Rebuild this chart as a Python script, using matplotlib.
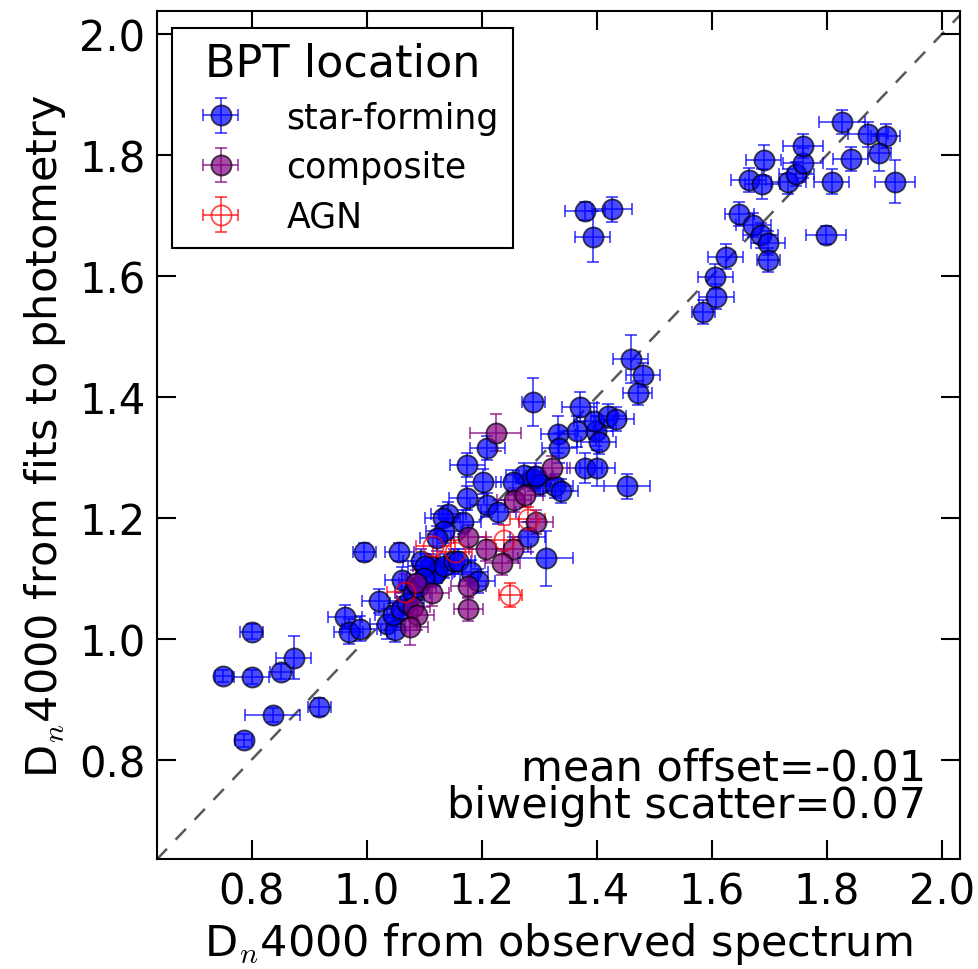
import matplotlib
matplotlib.use("Agg")
import matplotlib.pyplot as plt
import numpy as np

# star-forming galaxies: D_n4000 (spectrum), D_n4000 (photometry), errors
sf_x = [0.751, 0.800, 0.800, 0.837, 0.852, 0.873, 0.918, 0.786,
        0.996, 1.057, 0.962, 0.969, 0.988, 1.022, 1.036, 1.050, 1.062, 1.094,
        1.111, 1.123, 1.118, 1.135, 1.151, 1.158, 1.181, 1.193, 1.102,
        1.045, 1.060, 1.070, 1.080, 1.090, 1.100,
        1.142, 1.132, 1.168, 1.134, 1.122, 1.175, 1.203, 1.174, 1.210, 1.229,
        1.210, 1.290, 1.311, 1.280, 1.290, 1.302, 1.273, 1.255, 1.328, 1.337,
        1.333, 1.335, 1.365, 1.398, 1.395, 1.420, 1.434, 1.403, 1.370, 1.379,
        1.401, 1.452, 1.459, 1.480, 1.471, 1.294,
        1.379, 1.426, 1.393,
        1.585, 1.608, 1.606, 1.624, 1.648, 1.672, 1.685, 1.698, 1.698, 1.799,
        1.664, 1.688, 1.690, 1.733, 1.747, 1.759, 1.759, 1.808, 1.827, 1.841,
        1.872, 1.902, 1.891, 1.918]
sf_y = [0.938, 1.012, 0.937, 0.874, 0.946, 0.969, 0.887, 0.832,
        1.143, 1.144, 1.036, 1.012, 1.017, 1.062, 1.024, 1.015, 1.098, 1.128,
        1.120, 1.112, 1.107, 1.121, 1.128, 1.128, 1.111, 1.095, 1.121,
        1.040, 1.050, 1.060, 1.075, 1.085, 1.100,
        1.207, 1.199, 1.193, 1.178, 1.166, 1.287, 1.260, 1.233, 1.221, 1.210,
        1.315, 1.392, 1.133, 1.169, 1.264, 1.256, 1.271, 1.259, 1.253, 1.245,
        1.338, 1.315, 1.343, 1.344, 1.360, 1.369, 1.364, 1.326, 1.383, 1.283,
        1.283, 1.252, 1.463, 1.436, 1.407, 1.270,
        1.707, 1.710, 1.665,
        1.541, 1.566, 1.599, 1.632, 1.702, 1.684, 1.667, 1.654, 1.627, 1.667,
        1.758, 1.752, 1.791, 1.756, 1.768, 1.787, 1.815, 1.756, 1.855, 1.793,
        1.834, 1.832, 1.804, 1.756]
sf_xerr = [0.015, 0.020, 0.030, 0.048, 0.020, 0.030, 0.020, 0.015,
           0.020, 0.025, 0.030, 0.025, 0.030, 0.030, 0.030, 0.025, 0.030, 0.030,
           0.030, 0.030, 0.030, 0.030, 0.030, 0.030, 0.030, 0.030, 0.030,
           0.030, 0.030, 0.030, 0.030, 0.030, 0.030,
           0.030, 0.030, 0.030, 0.030, 0.030, 0.030, 0.030, 0.030, 0.030, 0.030,
           0.030, 0.020, 0.048, 0.030, 0.030, 0.030, 0.030, 0.030, 0.030, 0.030,
           0.030, 0.030, 0.030, 0.030, 0.035, 0.030, 0.030, 0.030, 0.030, 0.030,
           0.030, 0.040, 0.030, 0.030, 0.025, 0.030,
           0.035, 0.035, 0.030,
           0.020, 0.030, 0.030, 0.030, 0.025, 0.030, 0.030, 0.030, 0.020, 0.035,
           0.030, 0.030, 0.030, 0.030, 0.030, 0.035, 0.035, 0.030, 0.040, 0.030,
           0.035, 0.025, 0.020, 0.035]
sf_yerr = [0.010, 0.012, 0.012, 0.012, 0.012, 0.036, 0.015, 0.010,
           0.015, 0.015, 0.020, 0.020, 0.020, 0.020, 0.025, 0.020, 0.020, 0.020,
           0.020, 0.020, 0.020, 0.020, 0.020, 0.020, 0.020, 0.020, 0.020,
           0.020, 0.020, 0.020, 0.020, 0.020, 0.020,
           0.020, 0.020, 0.020, 0.020, 0.020, 0.020, 0.020, 0.020, 0.020, 0.020,
           0.020, 0.040, 0.045, 0.025, 0.020, 0.020, 0.020, 0.020, 0.020, 0.020,
           0.030, 0.025, 0.025, 0.025, 0.030, 0.020, 0.020, 0.020, 0.025, 0.025,
           0.030, 0.020, 0.040, 0.020, 0.020, 0.020,
           0.015, 0.020, 0.042,
           0.020, 0.020, 0.020, 0.020, 0.020, 0.020, 0.020, 0.020, 0.020, 0.015,
           0.020, 0.025, 0.025, 0.020, 0.020, 0.025, 0.020, 0.020, 0.020, 0.020,
           0.020, 0.020, 0.030, 0.035]

# composite galaxies
comp_x = [1.224, 1.323, 1.256, 1.276, 1.294, 1.177, 1.208, 1.255, 1.236,
          1.177, 1.177, 1.086, 1.113, 1.080, 1.087, 1.076]
comp_y = [1.341, 1.282, 1.229, 1.238, 1.193, 1.168, 1.149, 1.149, 1.126,
          1.088, 1.049, 1.093, 1.075, 1.052, 1.040, 1.020]
comp_xerr = [0.045, 0.030, 0.030, 0.030, 0.030, 0.030, 0.030, 0.030, 0.030,
             0.030, 0.025, 0.030, 0.030, 0.030, 0.030, 0.030]
comp_yerr = [0.030, 0.020, 0.020, 0.020, 0.020, 0.020, 0.020, 0.020, 0.020,
             0.020, 0.020, 0.020, 0.020, 0.020, 0.025, 0.030]

# AGN
agn_x = [1.280, 1.238, 1.116, 1.153, 1.066, 1.250]
agn_y = [1.198, 1.164, 1.154, 1.144, 1.078, 1.072]
agn_xerr = [0.030, 0.030, 0.030, 0.030, 0.030, 0.020]
agn_yerr = [0.020, 0.025, 0.020, 0.020, 0.030, 0.020]

stats_lines = ["mean offset=-0.01", "biweight scatter=0.07"]

plt.rcParams['font.family'] = ['DejaVu Sans']
plt.rcParams['mathtext.fontset'] = 'cm'

fig = plt.figure(figsize=(9.79, 9.70), dpi=100)
ax = fig.add_axes([0.160, 0.1134, 0.821, 0.8742])

lim_lo, lim_hi = 0.635, 2.035
ax.plot([lim_lo, lim_hi], [lim_lo, lim_hi], ls='--', color='0.35',
        lw=1.8, dashes=(6, 5), zorder=1)

common = dict(fmt='o', ms=14.5, mew=1.3, mec='k', capsize=4.5,
              elinewidth=1.3, capthick=1.3, alpha=0.7, zorder=3)
ax.errorbar(sf_x, sf_y, xerr=sf_xerr, yerr=sf_yerr, color='blue',
            mfc='blue', ecolor='blue', label='star-forming', **common)
ax.errorbar(comp_x, comp_y, xerr=comp_xerr, yerr=comp_yerr, color='purple',
            mfc='purple', ecolor='purple', label='composite', **common)
agn_kw = dict(common)
agn_kw['mec'] = 'red'
ax.errorbar(agn_x, agn_y, xerr=agn_xerr, yerr=agn_yerr, color='red',
            mfc='none', ecolor='red', label='AGN', **agn_kw)

ax.set_xlim(0.635, 2.032)
ax.set_ylim(0.636, 2.038)
ticks = [0.8, 1.0, 1.2, 1.4, 1.6, 1.8, 2.0]
ax.set_xticks(ticks)
ax.set_yticks(ticks)
ax.set_xticklabels([f"{t:.1f}" for t in ticks])
ax.set_yticklabels([f"{t:.1f}" for t in ticks])
ax.tick_params(direction='in', top=True, right=True, length=14, width=1.5,
               labelsize=30, pad=8)
for s in ax.spines.values():
    s.set_linewidth(1.5)

ax.set_xlabel(r"D$_n$4000 from observed spectrum", fontsize=31, labelpad=6)
ax.set_ylabel(r"D$_n$4000 from fits to photometry", fontsize=31, labelpad=8)

ax.text(0.957, 0.094, stats_lines[0], transform=ax.transAxes, ha='right',
        va='baseline', fontsize=31)
ax.text(0.957, 0.049, stats_lines[1], transform=ax.transAxes, ha='right',
        va='baseline', fontsize=31)

leg = ax.legend(loc='upper left', title='BPT location', fontsize=25,
                title_fontsize=32, fancybox=False, frameon=True,
                edgecolor='k', framealpha=1, handlelength=2.0,
                handletextpad=0.9, borderpad=0.4, labelspacing=0.45,
                borderaxespad=0.0, bbox_to_anchor=(0.019, 0.98))
leg.get_frame().set_linewidth(1.5)

fig.savefig("out.png", dpi=100)
